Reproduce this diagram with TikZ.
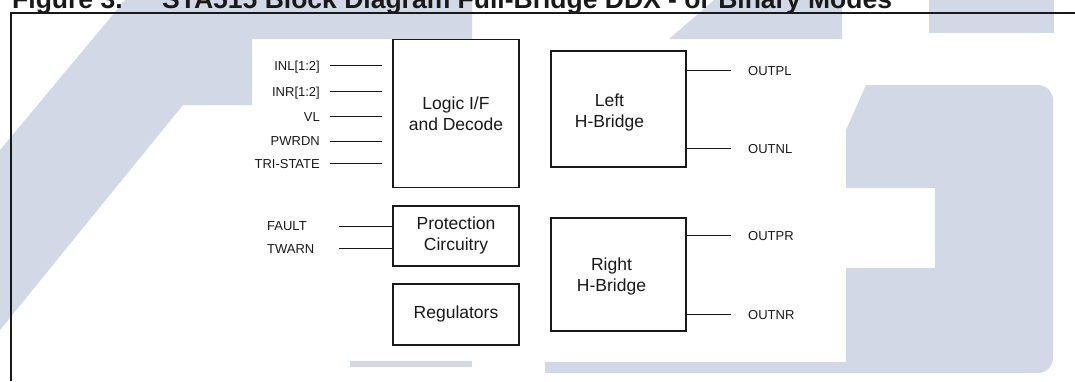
\documentclass[tikz,border=0pt]{standalone}
\usepackage{fontspec}
\setmainfont{Liberation Sans}
\definecolor{wm}{RGB}{210,216,230}
\definecolor{ink}{RGB}{25,25,25}
\begin{document}
\begin{tikzpicture}[x=1pt,y=-1pt,
  blk/.style={draw=ink,line width=1.1pt,inner sep=0pt,fill=white},
  boxtext/.style={align=center,inner sep=0pt,text=ink,font=\fontsize{17.5}{21}\selectfont},
  sig/.style={inner sep=0pt,text=ink,text height=9.4pt,text depth=0pt,font=\fontsize{13}{15}\selectfont},
  wire/.style={draw=ink,line width=0.9pt},
  ttlfont/.style={inner sep=0pt,anchor=base west,text=ink,font=\bfseries\fontsize{26.5}{30}\selectfont}]
\useasboundingbox (0,0) rectangle (1075,381);
% watermark
\fill[wm] (0,150) -- (125,0) -- (472,0) -- (472,39) -- (252,39) -- (252,105) -- (183,105) -- (0,330) -- cycle;
\fill[wm] (350,361) rectangle (472,367);
\fill[wm] (669,39) -- (714,0) -- (842,0) -- (842,39) -- cycle;
\fill[wm] (929,0) rectangle (1054,33);
\fill[wm] (846,130) -- (866,85) -- (1038,85) arc[start angle=-90,end angle=0,radius=15] -- (1053,358)
  arc[start angle=0,end angle=90,radius=15] -- (545,373) -- (545,362) -- (846,362) -- (846,268) -- (935,268) -- (935,188) -- (846,188) -- cycle;
% frame
\draw[ink,line width=1.6pt] (11,381) -- (11,12.8) -- (1075,12.8);
% title
\node[ttlfont] (fig) at (12,8.5) {Figure 3.};
\node[ttlfont] (ttl) at (162,8.5) {STA515 Block Diagram Full-Bridge DDX - or Binary Modes};
% blocks
\node[blk,minimum width=126pt,minimum height=148.5pt] (logic) at (456,113.5) {};
\node[boxtext] (logict) at (logic.center) {Logic I/F\\and Decode};
\node[blk,minimum width=126pt,minimum height=60pt] (prot) at (456,236) {};
\node[boxtext] (prott) at ([yshift=1]prot.center) {Protection\\Circuitry};
\node[blk,minimum width=126pt,minimum height=61pt] (reg) at (456,314.5) {};
\node[boxtext] (regt) at ([yshift=1]reg.center) {Regulators};
\node[blk,minimum width=135pt,minimum height=116pt] (lhb) at (618.5,109) {};
\node[boxtext] (lhbt) at ([xshift=-9,yshift=-3]lhb.center) {Left\\H-Bridge};
\node[blk,minimum width=135pt,minimum height=113pt] (rhb) at (618.5,274.5) {};
\node[boxtext] (rhbt) at ([xshift=-7,yshift=-2]rhb.center) {Right\\H-Bridge};
% input signals
\node[sig,anchor=east] (inl) at (320,65.5) {INL[1:2]};
\node[sig,anchor=east] (inr) at (320,91.5) {INR[1:2]};
\node[sig,anchor=east] (vl) at (320,116.5) {VL};
\node[sig,anchor=east] (pwr) at (320,141) {PWRDN};
\node[sig,anchor=east] (tri) at (320,163.5) {TRI-STATE};
\foreach \s in {inl,inr,vl,pwr,tri}
  \draw[wire] ([xshift=10pt]\s.east) -- ([xshift=-10pt]logic.west |- \s.east);
\node[sig,anchor=west] (fault) at (267,226) {FAULT};
\node[sig,anchor=west] (twarn) at (267,248.5) {TWARN};
\draw[wire] (339,226) coordinate (fa) -- (prot.west |- fa);
\draw[wire] (339,248.5) coordinate (tw) -- (prot.west |- tw);
% outputs
\node[sig,anchor=west] (opl) at (748,70.7) {OUTPL};
\node[sig,anchor=west] (onl) at (748,148.3) {OUTNL};
\node[sig,anchor=west] (opr) at (748,235.7) {OUTPR};
\node[sig,anchor=west] (onr) at (748,314.8) {OUTNR};
\draw[wire] (lhb.east |- opl.west) -- ([xshift=-17pt]opl.west);
\draw[wire] (lhb.east |- onl.west) -- ([xshift=-17pt]onl.west);
\draw[wire] (rhb.east |- opr.west) -- ([xshift=-17pt]opr.west);
\draw[wire] (rhb.east |- onr.west) -- ([xshift=-17pt]onr.west);
\end{tikzpicture}
\end{document}
